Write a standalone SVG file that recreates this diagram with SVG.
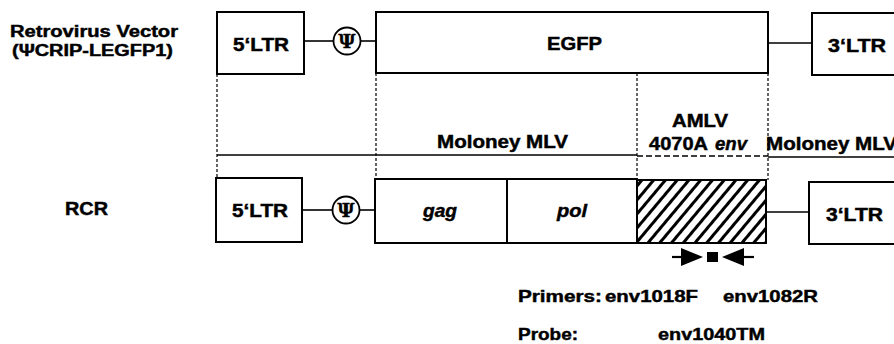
<svg xmlns="http://www.w3.org/2000/svg" width="894" height="344" viewBox="0 0 894 344">
<style>
text{font-family:"Liberation Sans",Arial,sans-serif;font-weight:bold;fill:#000;stroke:#000;stroke-width:0.45;}
.box{fill:#fff;stroke:#000;stroke-width:2;}
.ln{stroke:#000;stroke-width:1.6;fill:none;}
.dash{stroke:#000;stroke-width:1.2;stroke-dasharray:3 2;fill:none;}
.psi{fill:#fff;stroke:#000;stroke-width:1.8;}
.psit{font-family:"DejaVu Serif",serif;font-size:19px;stroke-width:0.3;}
.lbl{font-size:18px;}
.it{font-style:italic;}
</style>
<defs>
<pattern id="hatch" patternUnits="userSpaceOnUse" width="9" height="9" patternTransform="rotate(40)">
<rect width="9" height="9" fill="#fff"/>
<line x1="4.5" y1="0" x2="4.5" y2="9" stroke="#000" stroke-width="3"/>
</pattern>
</defs>
<rect width="894" height="344" fill="#fff" stroke="none"/>

<g id="labels-left">
<text x="10" y="37" font-size="16" textLength="168" lengthAdjust="spacingAndGlyphs">Retrovirus Vector</text>
<text x="12" y="56" font-size="16" textLength="161" lengthAdjust="spacingAndGlyphs">(ΨCRIP-LEGFP1)</text>
<text x="65" y="215" font-size="18" textLength="43" lengthAdjust="spacingAndGlyphs">RCR</text>
</g>

<g id="connectors">
<line class="ln" x1="304" y1="41" x2="334" y2="41"/>
<line class="ln" x1="360" y1="41" x2="376" y2="41"/>
<line class="ln" x1="768" y1="43" x2="812" y2="43"/>
<line class="ln" x1="302" y1="210" x2="333" y2="210"/>
<line class="ln" x1="359" y1="210" x2="375" y2="210"/>
<line class="ln" x1="766" y1="212" x2="809" y2="212"/>
<line class="dash" x1="217" y1="74" x2="217" y2="178"/>
<line class="dash" x1="376" y1="73" x2="376" y2="179"/>
<line class="dash" x1="637" y1="73" x2="637" y2="180"/>
<line class="dash" x1="768" y1="73" x2="768" y2="180"/>
<line class="ln" x1="217" y1="155" x2="637" y2="155"/>
<line class="ln" x1="637" y1="156" x2="768" y2="156" stroke-dasharray="6 3"/>
<line class="ln" x1="768" y1="157" x2="894" y2="157"/>
</g>

<g id="vector-5LTR">
<rect class="box" x="217" y="12" width="87" height="62"/>
<text class="lbl" x="233" y="51" textLength="56" lengthAdjust="spacingAndGlyphs">5‘LTR</text>
</g>
<g id="vector-psi">
<circle class="psi" cx="347" cy="41" r="13.5"/>
<text class="psit" x="347" y="48" text-anchor="middle">Ψ</text>
</g>
<g id="vector-EGFP">
<rect class="box" x="376" y="12" width="392" height="61"/>
<text class="lbl" x="547" y="50" textLength="55" lengthAdjust="spacingAndGlyphs">EGFP</text>
</g>
<g id="vector-3LTR">
<rect class="box" x="812" y="13" width="90" height="62"/>
<text class="lbl" x="828" y="52" textLength="58" lengthAdjust="spacingAndGlyphs">3‘LTR</text>
</g>

<g id="region-moloney-left">
<text class="lbl" x="437" y="148" textLength="131" lengthAdjust="spacingAndGlyphs">Moloney MLV</text>
</g>
<g id="region-amlv">
<text class="lbl" x="672" y="127" textLength="56" lengthAdjust="spacingAndGlyphs">AMLV</text>
<text class="lbl" x="649" y="150"><tspan textLength="59" lengthAdjust="spacingAndGlyphs">4070A</tspan><tspan class="it" x="715" textLength="32" lengthAdjust="spacingAndGlyphs">env</tspan></text>
</g>
<g id="region-moloney-right">
<text class="lbl" x="766" y="150" textLength="131" lengthAdjust="spacingAndGlyphs">Moloney MLV</text>
</g>

<g id="rcr-5LTR">
<rect class="box" x="216" y="178" width="86" height="64"/>
<text class="lbl" x="232" y="217" textLength="56" lengthAdjust="spacingAndGlyphs">5‘LTR</text>
</g>
<g id="rcr-psi">
<circle class="psi" cx="346" cy="210" r="13.5"/>
<text class="psit" x="346" y="217" text-anchor="middle">Ψ</text>
</g>
<g id="rcr-gag">
<rect class="box" x="375" y="179" width="132" height="64"/>
<text class="lbl it" x="423" y="217" textLength="34" lengthAdjust="spacingAndGlyphs">gag</text>
</g>
<g id="rcr-pol">
<rect class="box" x="507" y="179" width="130" height="64"/>
<text class="lbl it" x="557" y="217" textLength="30" lengthAdjust="spacingAndGlyphs">pol</text>
</g>
<g id="rcr-env">
<rect x="637" y="180" width="129" height="63" fill="url(#hatch)" stroke="#000" stroke-width="2"/>
</g>
<g id="rcr-3LTR">
<rect class="box" x="809" y="182" width="93" height="62"/>
<text class="lbl" x="826" y="221" textLength="57" lengthAdjust="spacingAndGlyphs">3‘LTR</text>
</g>

<g id="primers-probe">
<line x1="672" y1="257" x2="684" y2="257" stroke="#000" stroke-width="2.2"/>
<polygon points="681,248 703,257 681,266" fill="#000"/>
<rect x="707" y="252" width="11" height="10" fill="#000"/>
<polygon points="744,248 722,257 744,266" fill="#000"/>
<line x1="742" y1="257" x2="754" y2="257" stroke="#000" stroke-width="2.2"/>
</g>

<g id="legend">
<text x="518" y="302" font-size="17" textLength="84" lengthAdjust="spacingAndGlyphs">Primers:</text>
<text x="605" y="302" font-size="17" textLength="93" lengthAdjust="spacingAndGlyphs">env1018F</text>
<text x="723" y="302" font-size="17" textLength="95" lengthAdjust="spacingAndGlyphs">env1082R</text>
<text x="518" y="340" font-size="17" textLength="60" lengthAdjust="spacingAndGlyphs">Probe:</text>
<text x="658" y="340" font-size="17" textLength="107" lengthAdjust="spacingAndGlyphs">env1040TM</text>
</g>
</svg>
